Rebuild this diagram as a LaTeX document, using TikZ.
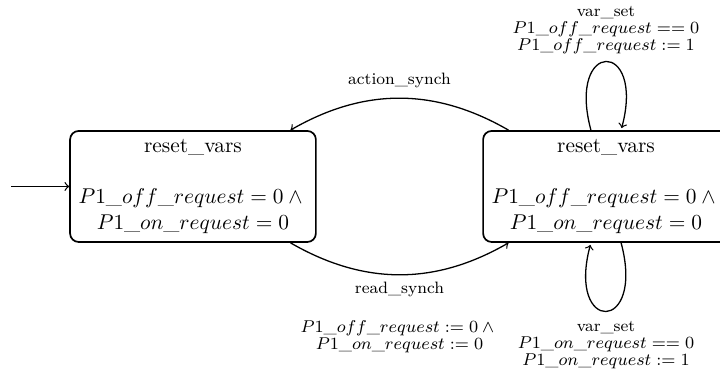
\documentclass[tikz,border=0pt]{standalone}
\begin{document}
\begin{tikzpicture}[
    loc/.style={draw,thick,rounded corners=4pt,minimum width=114.9pt,
      minimum height=51.9pt,align=center},
    lbl/.style={font=\fontsize{7.7}{8}\selectfont,align=center},
    every edge/.style={draw,semithick,->}]
  \useasboundingbox (-3.171,-3.196) rectangle (8.659,3.064);
  \node[loc] (l0) at (0,0)
    {reset\_vars\\[12pt]$P1\_off\_request = 0 \wedge{}$\\$P1\_on\_request = 0$};
  \node[loc] (l1) at (6.786,0)
    {reset\_vars\\[12pt]$P1\_off\_request = 0 \wedge{}$\\$P1\_on\_request = 0$};
  \coordinate (entry) at ([xshift=-27pt]l0.west);
  \draw[semithick,->] (entry) -- (l0);
  \begin{scope}
    \path (l1) edge[bend right=30] node[lbl,above=1pt] {action\_synch} (l0);
    \path (l0) edge[bend right=30] node[lbl,below]
      {read\_synch\\[10pt]$P1\_off\_request := 0 \wedge{}$\\$P1\_on\_request := 0$} (l1);
    \path (l1) edge[loop above] node[lbl,above]
      {var\_set\\$P1\_off\_request == 0$\\$P1\_off\_request := 1$} ();
    \path (l1) edge[loop below] node[lbl,below=1pt]
      {var\_set\\$P1\_on\_request == 0$\\$P1\_on\_request := 1$} ();
  \end{scope}
\end{tikzpicture}
\end{document}
